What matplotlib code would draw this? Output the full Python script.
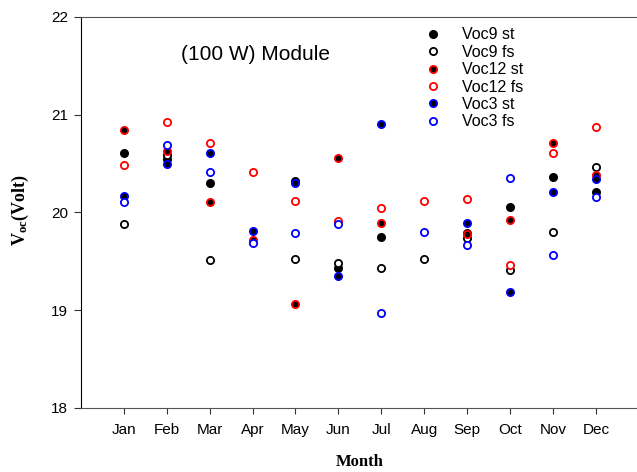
import numpy as np
import matplotlib
matplotlib.use('Agg')
import matplotlib.pyplot as plt

months = ['Jan', 'Feb', 'Mar', 'Apr', 'May', 'Jun', 'Jul', 'Aug', 'Sep', 'Oct', 'Nov', 'Dec']
nan = np.nan

voc9_st = [20.61, 20.55, 20.30, nan, 20.32, 19.43, 19.75, nan, 19.79, 20.06, 20.36, 20.21]
voc9_fs = [19.88, 20.59, 19.51, nan, 19.52, 19.48, 19.43, 19.52, 19.74, 19.41, 19.80, 20.47]
voc12_st = [20.84, 20.63, 20.11, 19.72, 19.06, 20.56, 19.89, nan, 19.78, 19.92, 20.71, 20.38]
voc12_fs = [20.49, 20.93, 20.71, 20.41, 20.12, 19.91, 20.05, 20.12, 20.14, 19.46, 20.61, 20.87]
voc3_st = [20.17, 20.50, 20.61, 19.81, 20.30, 19.35, 20.91, nan, 19.89, 19.19, 20.21, 20.34]
voc3_fs = [20.11, 20.69, 20.41, 19.69, 19.79, 19.88, 18.97, 19.80, 19.67, 20.35, 19.57, 20.16]

plt.rcParams['font.family'] = ['Liberation Sans', 'DejaVu Sans']
plt.rcParams['mathtext.fontset'] = 'custom'
plt.rcParams['mathtext.rm'] = 'Liberation Serif:bold'
plt.rcParams['mathtext.bf'] = 'Liberation Serif:bold'
plt.rcParams['mathtext.it'] = 'Liberation Serif:bold'

fig = plt.figure(figsize=(6.37, 4.72), dpi=100)
ax = fig.add_axes([0.1267, 0.1356, 0.8733, 0.8284])

x = np.arange(1, 13)
series = [
    ('Voc9 st', voc9_st, 'black', 'black'),
    ('Voc9 fs', voc9_fs, 'white', 'black'),
    ('Voc12 st', voc12_st, 'black', 'red'),
    ('Voc12 fs', voc12_fs, 'white', 'red'),
    ('Voc3 st', voc3_st, 'black', 'blue'),
    ('Voc3 fs', voc3_fs, 'white', 'blue'),
]
for name, vals, face, edge in series:
    ax.plot(x, vals, linestyle='none', marker='o', markersize=5.2,
            markerfacecolor=face, markeredgecolor=edge, markeredgewidth=1.3,
            label=name)

ax.set_xlim(0, 12.95)
ax.set_ylim(18, 22)
ax.set_xticks(x)
ax.set_xticklabels(months)
ax.set_yticks([18, 19, 20, 21, 22])

ax.spines['right'].set_visible(False)
ax.spines['top'].set_color('#555555')
ax.spines['bottom'].set_color('#555555')
ax.spines['left'].set_color('black')
ax.tick_params(axis='x', direction='out', length=4, color='#333333', labelsize=11, pad=7)
ax.tick_params(axis='y', direction='out', length=5, color='#333333', labelsize=11, pad=4)

ax.text(0.18, 0.903, '(100 W) Module', transform=ax.transAxes, fontsize=15,
        va='center', ha='left')

fig.text(0.564, 0.022, 'Month', family='Liberation Serif', weight='bold',
         fontsize=12, ha='center', va='center')
fig.text(0.032, 0.555, r'$\mathbf{V_{oc}}$(Volt)', family='Liberation Serif',
         weight='bold', fontsize=13, rotation=90, ha='center', va='center')

ax.legend(loc='upper left', bbox_to_anchor=(0.664, 0.942), bbox_transform=fig.transFigure,
          frameon=False, fontsize=11.5, handletextpad=1.25, labelspacing=0.15,
          handlelength=1.2, borderaxespad=0, borderpad=0)

plt.savefig('out.png', dpi=100)
plt.close()
